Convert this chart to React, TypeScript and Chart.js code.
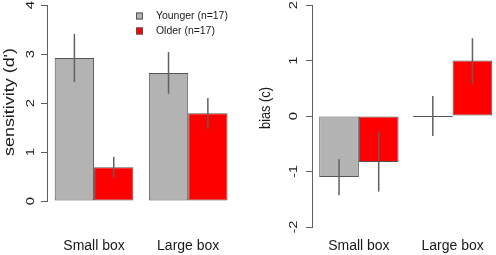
import React, { useEffect, useRef } from "react";
import { Chart, registerables } from "chart.js";

Chart.register(...registerables);

// ---- data ----
const categories = ["Small box", "Large box"];
const seriesNames = ["Younger (n=17)", "Older (n=17)"];

const sensYounger = [2.92, 2.61];
const sensOlder = [0.69, 1.79];
const sensYoungerLo = [2.43, 2.19];
const sensYoungerHi = [3.41, 3.04];
const sensOlderLo = [0.48, 1.47];
const sensOlderHi = [0.9, 2.1];
const sensTicks = [0, 1, 2, 3, 4];

const biasYounger = [-1.1, 0];
const biasOlder = [-0.83, 1.0];
const biasYoungerLo = [-1.43, -0.36];
const biasYoungerHi = [-0.78, 0.36];
const biasOlderLo = [-1.36, 0.59];
const biasOlderHi = [-0.28, 1.4];
const biasTicks = [-2, -1, 0, 1, 2];

// ---- style ----
const FONT = '"Liberation Sans", Arial, Helvetica, sans-serif';
const GRAY = "#b3b3b3";
const RED = "#ff0000";
const EDGE = "#555555";
const AXIS = "#606060";
const TEXT = "#1a1a1a";

function drawRot(ctx: CanvasRenderingContext2D, text: string, x: number, y: number, size: number, targetLen: number | null, stretch: number) {
  ctx.save();
  ctx.font = `${size}px ${FONT}`;
  const w = ctx.measureText(text).width;
  const s = targetLen ? targetLen / w : stretch;
  ctx.translate(x, y);
  ctx.rotate(-Math.PI / 2);
  ctx.scale(s, 1);
  ctx.fillStyle = TEXT;
  ctx.textAlign = "center";
  ctx.textBaseline = "middle";
  ctx.fillText(text, 0, 0);
  ctx.restore();
}

type PanelCfg = {
  younger: number[];
  older: number[];
  yLo: number[];
  yHi: number[];
  oLo: number[];
  oHi: number[];
  ticks: number[];
  title: string;
  titleX: number;
  titleY: number;
  titleLen: number;
  tickX: number;
  axisW: number;
  xAxisH: number;
  padRight: number;
  labelGap: number;
  catPct: number;
  legendX: number;
  legendTextX: number;
};

const LEGEND_TEXT_W = 72; // width of "Younger (n=17)" in the reference

function makeChart(canvas: HTMLCanvasElement, p: PanelCfg) {
  const errs = [
    [p.yLo, p.yHi],
    [p.oLo, p.oHi],
  ];
  const overlay = {
    id: "overlay",
    afterDatasetsDraw(chart: any) {
      const ctx: CanvasRenderingContext2D = chart.ctx;
      const ys = chart.scales.y;
      ctx.save();
      chart.data.datasets.forEach((ds: any, i: number) => {
        const meta = chart.getDatasetMeta(i);
        meta.data.forEach((el: any, j: number) => {
          const v = ds.data[j];
          if (v === 0) {
            ctx.strokeStyle = EDGE;
            ctx.lineWidth = 1.2;
            ctx.beginPath();
            const y0 = Math.round(ys.getPixelForValue(0)) + 0.5;
            ctx.moveTo(el.x - el.width / 2, y0);
            ctx.lineTo(el.x + el.width / 2, y0);
            ctx.stroke();
          }
          const lo = errs[i][0][j];
          const hi = errs[i][1][j];
          ctx.strokeStyle = AXIS;
          ctx.lineWidth = 1.5;
          ctx.beginPath();
          ctx.moveTo(el.x, ys.getPixelForValue(lo));
          ctx.lineTo(el.x, ys.getPixelForValue(hi));
          ctx.stroke();
        });
      });
      ctx.restore();
    },
    afterDraw(chart: any) {
      const ctx: CanvasRenderingContext2D = chart.ctx;
      const ys = chart.scales.y;
      p.ticks.forEach((t) => {
        drawRot(ctx, String(t), p.tickX, ys.getPixelForValue(t), 11, null, 1.35);
      });
      drawRot(ctx, p.title, p.titleX, p.titleY, 14, p.titleLen, 1);
      // legend
      ctx.save();
      ctx.font = `10px ${FONT}`;
      const w10 = ctx.measureText(seriesNames[0]).width;
      const fs = (10 * LEGEND_TEXT_W) / w10;
      ctx.font = `${fs}px ${FONT}`;
      ctx.textBaseline = "middle";
      ctx.textAlign = "left";
      const rows = [16, 31];
      chart.data.datasets.forEach((ds: any, i: number) => {
        const cy = rows[i];
        ctx.fillStyle = ds.backgroundColor;
        ctx.fillRect(p.legendX, cy - 3.5, 7, 7);
        ctx.strokeStyle = EDGE;
        ctx.lineWidth = 1;
        ctx.strokeRect(p.legendX + 0.5, cy - 3, 6, 6);
        ctx.fillStyle = TEXT;
        ctx.fillText(ds.label, p.legendTextX, cy + 0.5);
      });
      ctx.restore();
    },
  };

  return new Chart(canvas, {
    type: "bar",
    data: {
      labels: categories,
      datasets: [
        {
          label: seriesNames[0],
          data: p.younger,
          backgroundColor: GRAY,
          borderColor: EDGE,
          borderWidth: 1,
          borderSkipped: false,
          categoryPercentage: p.catPct,
          barPercentage: 1,
        },
        {
          label: seriesNames[1],
          data: p.older,
          backgroundColor: RED,
          borderColor: EDGE,
          borderWidth: 1,
          borderSkipped: false,
          categoryPercentage: p.catPct,
          barPercentage: 1,
        },
      ],
    },
    options: {
      responsive: false,
      animation: false,
      devicePixelRatio: 1,
      layout: { padding: { top: 5, right: p.padRight, left: 0, bottom: 0 } },
      plugins: { legend: { display: false }, tooltip: { enabled: false }, title: { display: false } },
      scales: {
        x: {
          type: "category",
          grid: { display: false, drawTicks: true, tickLength: p.labelGap },
          border: { display: false },
          ticks: { font: { family: FONT, size: 14 }, color: TEXT, padding: 8, maxRotation: 0 },
          afterFit: (s: any) => {
            s.height = p.xAxisH;
          },
        },
        y: {
          type: "linear",
          min: p.ticks[0],
          max: p.ticks[p.ticks.length - 1],
          afterBuildTicks: (s: any) => {
            s.ticks = p.ticks.map((v) => ({ value: v }));
          },
          grid: { drawOnChartArea: false, drawTicks: true, tickLength: 6, color: AXIS, lineWidth: 1 },
          border: { display: true, color: AXIS, width: 1 },
          ticks: { display: false },
          afterFit: (s: any) => {
            s.width = p.axisW;
          },
        },
      },
    },
    plugins: [overlay],
  } as any);
}

export default function App() {
  const leftRef = useRef<HTMLCanvasElement>(null);
  const rightRef = useRef<HTMLCanvasElement>(null);

  useEffect(() => {
    const c1 = makeChart(leftRef.current!, {
      younger: sensYounger,
      older: sensOlder,
      yLo: sensYoungerLo,
      yHi: sensYoungerHi,
      oLo: sensOlderLo,
      oHi: sensOlderHi,
      ticks: sensTicks,
      title: "sensitivity (d')",
      titleX: 10,
      titleY: 102,
      titleLen: 108,
      tickX: 31,
      axisW: 47,
      xAxisH: 54,
      padRight: 14.75,
      labelGap: 29,
      catPct: 0.836,
      legendX: 136,
      legendTextX: 156,
    });
    const c2 = makeChart(rightRef.current!, {
      younger: biasYounger,
      older: biasOlder,
      yLo: biasYoungerLo,
      yHi: biasYoungerHi,
      oLo: biasOlderLo,
      oHi: biasOlderHi,
      ticks: biasTicks,
      title: "bias (c)",
      titleX: 16,
      titleY: 108,
      titleLen: 42,
      tickX: 44,
      axisW: 62,
      xAxisH: 28,
      padRight: 4.5,
      labelGap: 3,
      catPct: 0.846,
      legendX: 403,
      legendTextX: 421,
    } as any);
    return () => {
      c1.destroy();
      c2.destroy();
    };
  }, []);

  return (
    <div style={{ position: "fixed", left: 0, top: 0, width: 496, height: 255, overflow: "hidden", background: "#fff" }}>
      <canvas ref={leftRef} width={250} height={255} style={{ position: "absolute", left: 0, top: 0, width: 250, height: 255 }} />
      <canvas ref={rightRef} width={254} height={255} style={{ position: "absolute", left: 250, top: 0, width: 254, height: 255 }} />
    </div>
  );
}
